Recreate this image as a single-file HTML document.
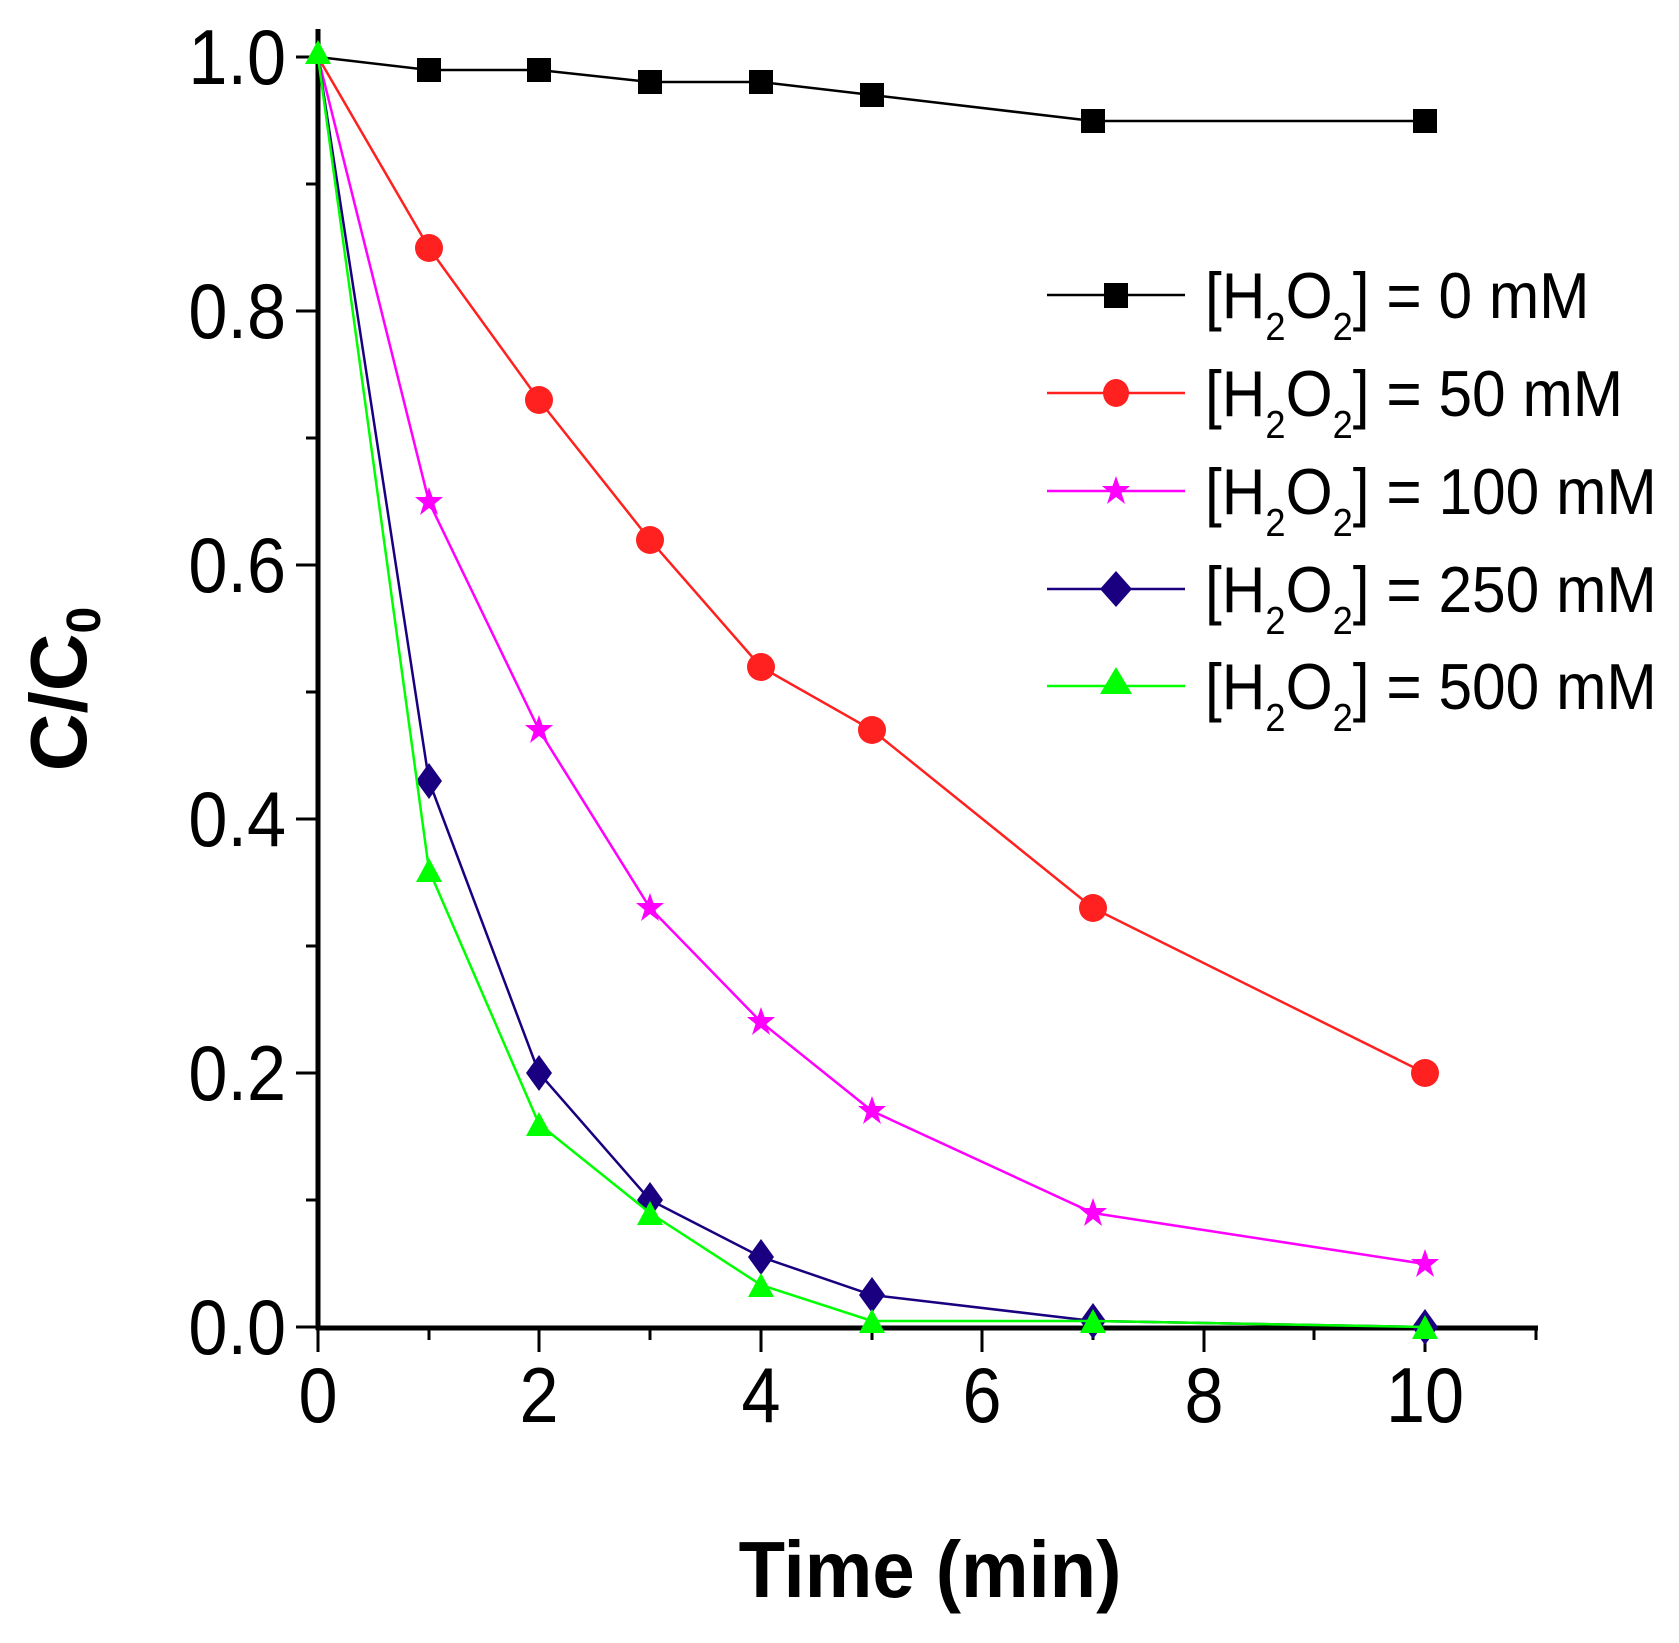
<!DOCTYPE html>
<html><head><meta charset="utf-8"><style>html,body{margin:0;padding:0;background:#fff}svg{display:block}</style></head>
<body>
<svg width="1679" height="1643" viewBox="0 0 1679 1643" xmlns="http://www.w3.org/2000/svg" font-family="Liberation Sans, Arial, sans-serif">
<defs>
<polygon id="star" points="0,-15 3.5,-5 14,-5 5.5,2 9,13 0,6 -9,13 -5.5,2 -14,-5 -3.5,-5"/>
</defs>
<g stroke="#000" fill="none">
<line x1="318" y1="29" x2="318" y2="1330" stroke-width="5"/>
<line x1="316" y1="1328" x2="1538" y2="1328" stroke-width="5"/>
<g stroke-width="3">
<line x1="296" y1="57" x2="318" y2="57"/><line x1="296" y1="311" x2="318" y2="311"/><line x1="296" y1="565" x2="318" y2="565"/><line x1="296" y1="819" x2="318" y2="819"/><line x1="296" y1="1073" x2="318" y2="1073"/><line x1="296" y1="1327" x2="318" y2="1327"/>
<line x1="306" y1="184" x2="318" y2="184"/><line x1="306" y1="438" x2="318" y2="438"/><line x1="306" y1="692" x2="318" y2="692"/><line x1="306" y1="946" x2="318" y2="946"/><line x1="306" y1="1200" x2="318" y2="1200"/>
<line x1="318" y1="1328" x2="318" y2="1352"/><line x1="539" y1="1328" x2="539" y2="1352"/><line x1="761" y1="1328" x2="761" y2="1352"/><line x1="982" y1="1328" x2="982" y2="1352"/><line x1="1204" y1="1328" x2="1204" y2="1352"/><line x1="1425" y1="1328" x2="1425" y2="1352"/>
<line x1="429" y1="1328" x2="429" y2="1340"/><line x1="650" y1="1328" x2="650" y2="1340"/><line x1="872" y1="1328" x2="872" y2="1340"/><line x1="1093" y1="1328" x2="1093" y2="1340"/><line x1="1314" y1="1328" x2="1314" y2="1340"/><line x1="1536" y1="1328" x2="1536" y2="1340"/>
</g></g>
<g font-size="78" fill="#000" text-anchor="end">
<text transform="translate(286,84) scale(0.9,1)">1.0</text>
<text transform="translate(286,338) scale(0.9,1)">0.8</text>
<text transform="translate(286,592) scale(0.9,1)">0.6</text>
<text transform="translate(286,846) scale(0.9,1)">0.4</text>
<text transform="translate(286,1100) scale(0.9,1)">0.2</text>
<text transform="translate(286,1354) scale(0.9,1)">0.0</text>
</g>
<g font-size="78" fill="#000" text-anchor="middle">
<text transform="translate(318,1422) scale(0.9,1)">0</text>
<text transform="translate(539,1422) scale(0.9,1)">2</text>
<text transform="translate(761,1422) scale(0.9,1)">4</text>
<text transform="translate(982,1422) scale(0.9,1)">6</text>
<text transform="translate(1204,1422) scale(0.9,1)">8</text>
<text transform="translate(1425,1422) scale(0.9,1)">10</text>
</g>
<text transform="translate(930,1597) scale(0.95,1)" font-size="80" font-weight="bold" text-anchor="middle">Time (min)</text>
<text transform="translate(86,689) rotate(-90)" font-size="80" font-weight="bold" text-anchor="middle">C/C<tspan font-size="48" dy="14">0</tspan></text>
<polyline fill="none" stroke="#000" stroke-width="2.5" points="318,57 429,70 539,70 650,82 761,82 872,95 1093,121 1425,121"/>
<g fill="#000"><rect x="417" y="58" width="24" height="24"/><rect x="527" y="58" width="24" height="24"/><rect x="638" y="70" width="24" height="24"/><rect x="749" y="70" width="24" height="24"/><rect x="860" y="83" width="24" height="24"/><rect x="1081" y="109" width="24" height="24"/><rect x="1413" y="109" width="24" height="24"/></g>
<polyline fill="none" stroke="#ff2020" stroke-width="2.5" points="318,57 429,248 539,400 650,540 761,667 872,730 1093,908 1425,1073"/>
<g fill="#ff2020"><circle cx="429" cy="248" r="14"/><circle cx="539" cy="400" r="14"/><circle cx="650" cy="540" r="14"/><circle cx="761" cy="667" r="14"/><circle cx="872" cy="730" r="14"/><circle cx="1093" cy="908" r="14"/><circle cx="1425" cy="1073" r="14"/></g>
<polyline fill="none" stroke="#ff00ff" stroke-width="2.5" points="318,57 429,502 539,730 650,908 761,1022 872,1111 1093,1213 1425,1264"/>
<g fill="#ff00ff"><use href="#star" x="429" y="502"/><use href="#star" x="539" y="730"/><use href="#star" x="650" y="908"/><use href="#star" x="761" y="1022"/><use href="#star" x="872" y="1111"/><use href="#star" x="1093" y="1213"/><use href="#star" x="1425" y="1264"/></g>
<polyline fill="none" stroke="#1a0080" stroke-width="2.5" points="318,57 429,781 539,1073 650,1200 761,1257 872,1295 1093,1321 1425,1327"/>
<g fill="#1a0080"><polygon points="429,763 442,781 429,799 416,781"/><polygon points="539,1055 552,1073 539,1091 526,1073"/><polygon points="650,1182 663,1200 650,1218 637,1200"/><polygon points="761,1239 774,1257 761,1275 748,1257"/><polygon points="872,1277 885,1295 872,1313 859,1295"/><polygon points="1093,1303 1106,1321 1093,1339 1080,1321"/><polygon points="1425,1309 1438,1327 1425,1345 1412,1327"/></g>
<polyline fill="none" stroke="#00ff00" stroke-width="2.5" points="318,57 429,870 539,1124 650,1213 761,1285 872,1321 1093,1321 1425,1327"/>
<g fill="#00ff00"><polygon points="318,40 331,64 305,64"/><polygon points="429,858 442,882 416,882"/><polygon points="539,1112 552,1136 526,1136"/><polygon points="650,1201 663,1225 637,1225"/><polygon points="761,1273 774,1297 748,1297"/><polygon points="872,1309 885,1333 859,1333"/><polygon points="1093,1309 1106,1333 1080,1333"/><polygon points="1425,1315 1438,1339 1412,1339"/></g>
<g stroke-width="2.5">
<line x1="1047" y1="295" x2="1185" y2="295" stroke="#000"/><rect x="1104" y="283" width="24" height="25" fill="#000"/>
<line x1="1047" y1="393" x2="1185" y2="393" stroke="#ff2020"/><ellipse cx="1116" cy="393" rx="13" ry="14" fill="#ff2020"/>
<line x1="1047" y1="491" x2="1185" y2="491" stroke="#ff00ff"/><use href="#star" x="1116" y="491" fill="#ff00ff"/>
<line x1="1047" y1="589" x2="1185" y2="589" stroke="#1a0080"/><polygon points="1116,571 1132,589 1116,607 1100,589" fill="#1a0080"/>
<line x1="1047" y1="686" x2="1185" y2="686" stroke="#00ff00"/><polygon points="1116,667 1132,694 1100,694" fill="#00ff00"/>
</g>
<g font-size="65" fill="#000">
<text transform="translate(1205,318) scale(0.93,1)">[H<tspan font-size="39" dy="22">2</tspan><tspan dy="-22">O</tspan><tspan font-size="39" dy="22">2</tspan><tspan dy="-22">] = 0 mM</tspan></text>
<text transform="translate(1205,416) scale(0.93,1)">[H<tspan font-size="39" dy="22">2</tspan><tspan dy="-22">O</tspan><tspan font-size="39" dy="22">2</tspan><tspan dy="-22">] = 50 mM</tspan></text>
<text transform="translate(1205,514) scale(0.93,1)">[H<tspan font-size="39" dy="22">2</tspan><tspan dy="-22">O</tspan><tspan font-size="39" dy="22">2</tspan><tspan dy="-22">] = 100 mM</tspan></text>
<text transform="translate(1205,612) scale(0.93,1)">[H<tspan font-size="39" dy="22">2</tspan><tspan dy="-22">O</tspan><tspan font-size="39" dy="22">2</tspan><tspan dy="-22">] = 250 mM</tspan></text>
<text transform="translate(1205,709) scale(0.93,1)">[H<tspan font-size="39" dy="22">2</tspan><tspan dy="-22">O</tspan><tspan font-size="39" dy="22">2</tspan><tspan dy="-22">] = 500 mM</tspan></text>
</g>
</svg>
</body></html>
